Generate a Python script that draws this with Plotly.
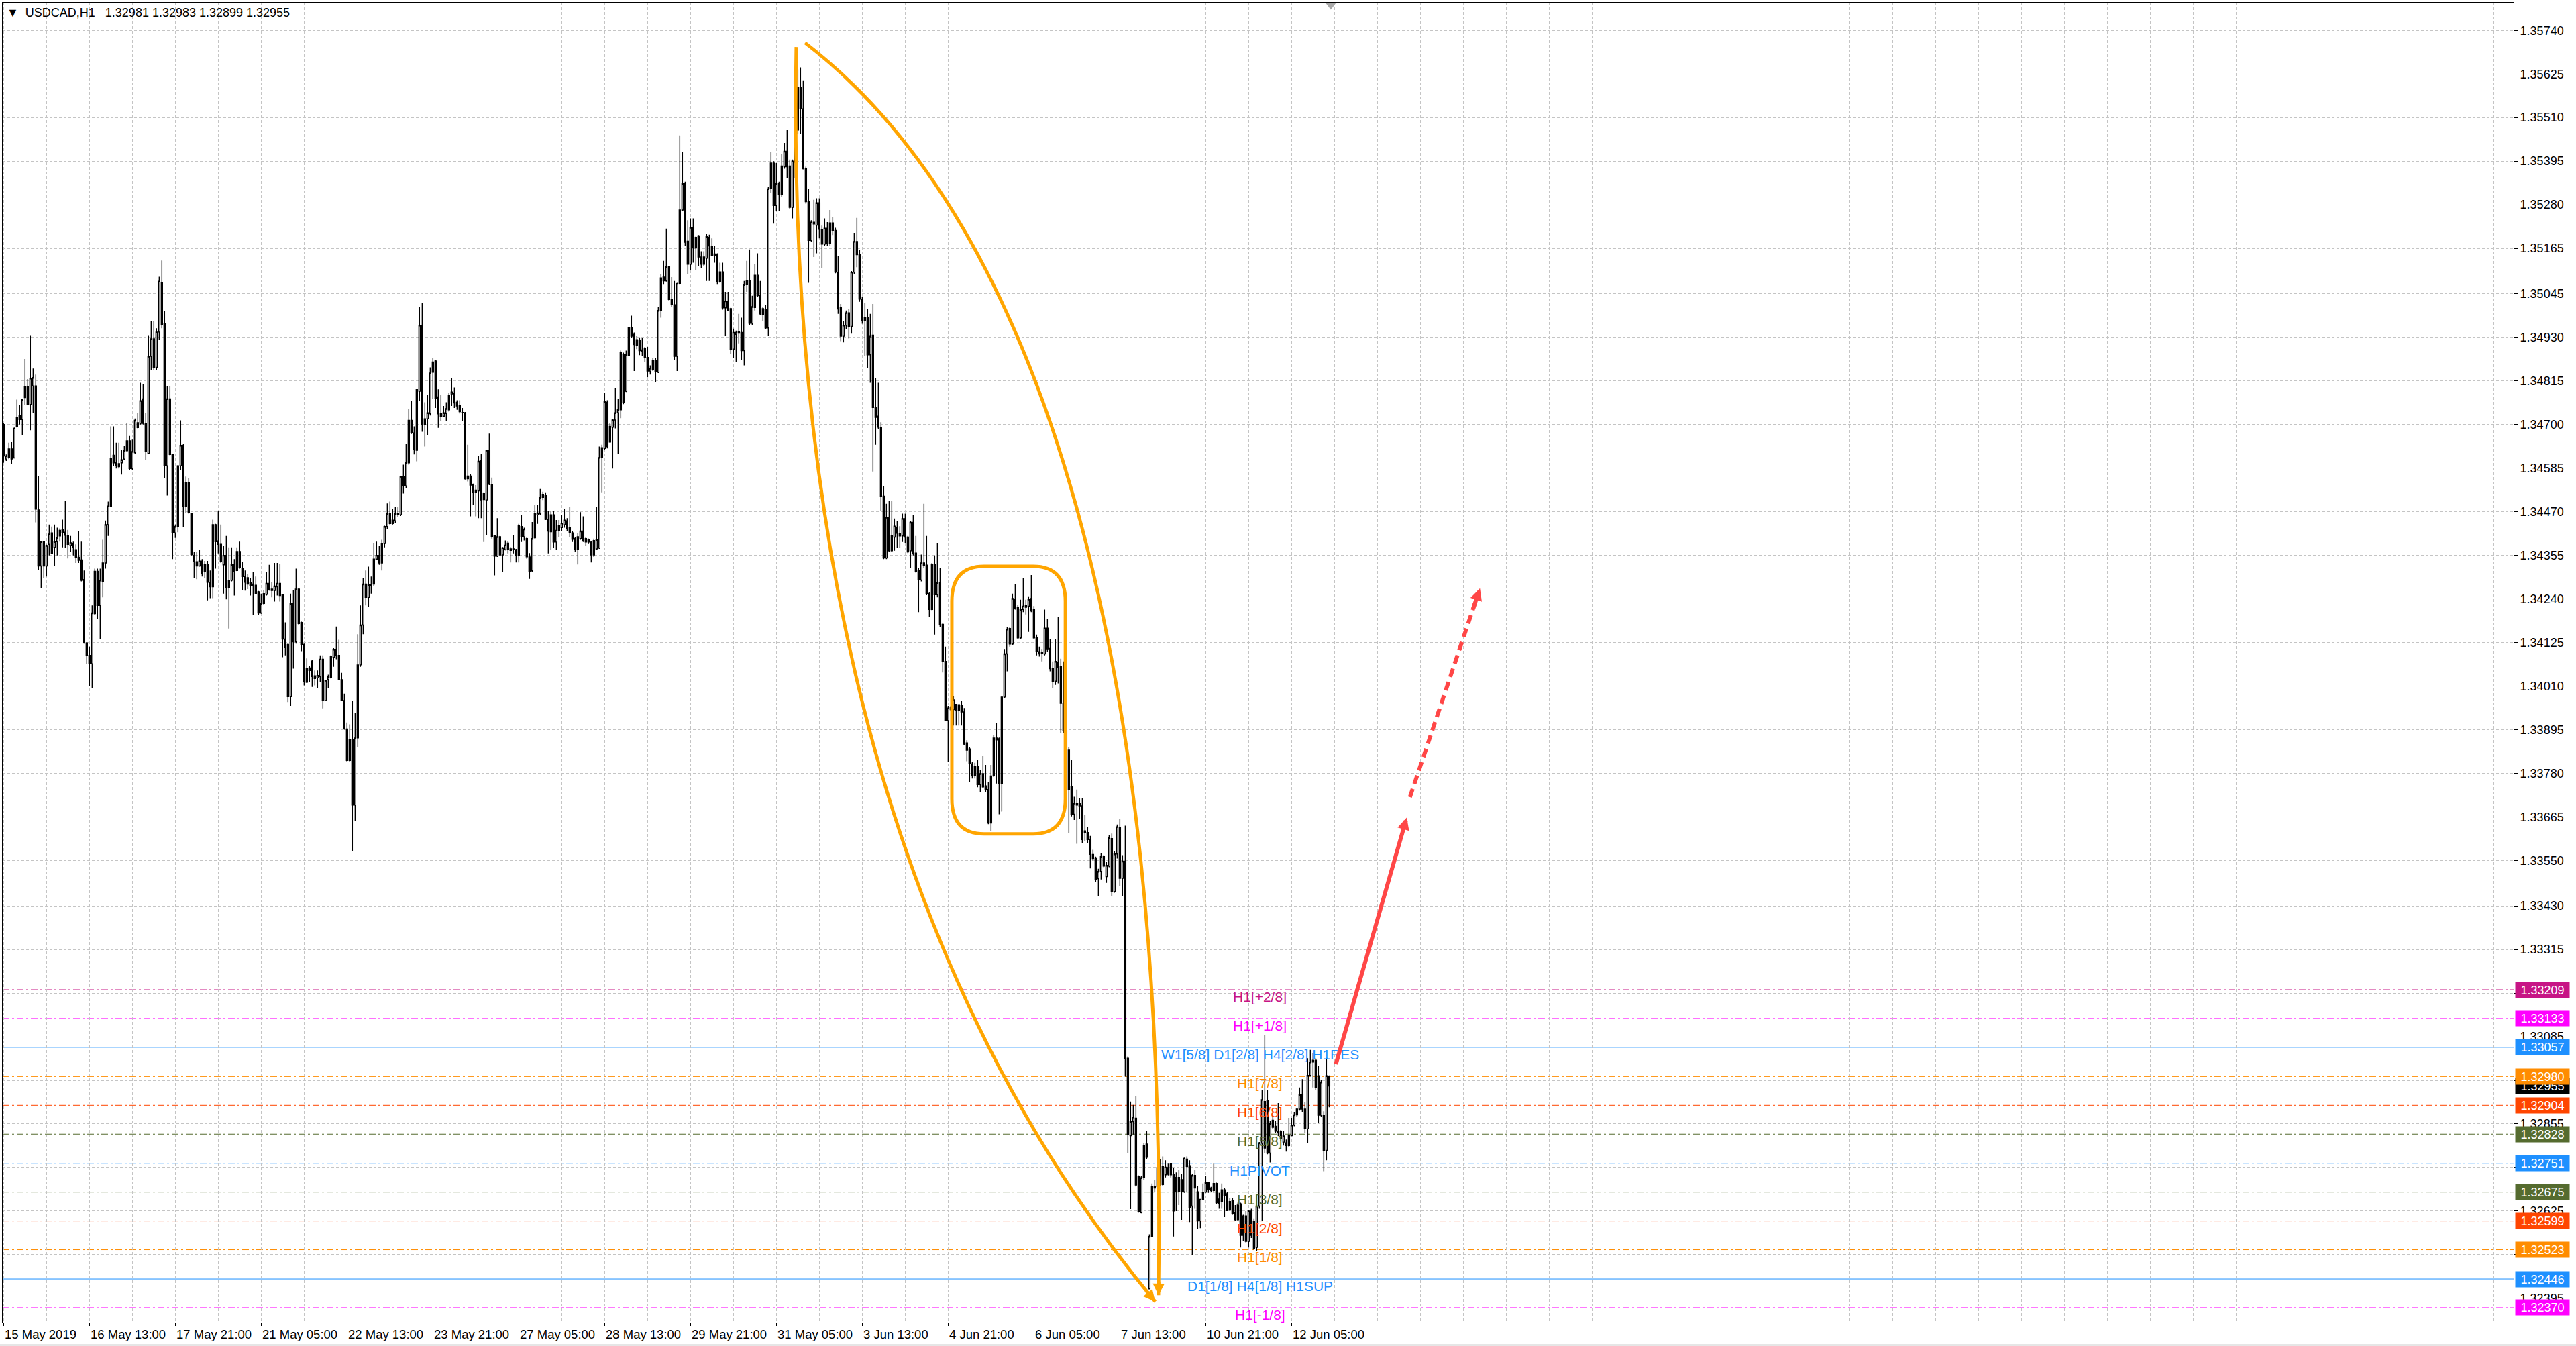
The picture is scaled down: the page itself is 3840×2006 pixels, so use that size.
import plotly.graph_objects as go

# USDCAD H1 bars, 15 May 2019 05:00 .. 12 Jun 2019 20:00, prices in points (1e-5)
OPEN = [
    134700, 134609, 134614, 134636, 134612, 134694, 134723, 134713, 134771, 134800,
    134753, 134802, 134802, 134475, 134327, 134391, 134327, 134384, 134414, 134376,
    134391, 134406, 134424, 134416, 134406, 134381, 134386, 134370, 134350, 134343,
    134291, 134124, 134091, 134069, 134201, 134313, 134223, 134286, 134335, 134436,
    134485, 134619, 134599, 134597, 134599, 134609, 134631, 134657, 134584, 134626,
    134692, 134703, 134768, 134703, 134624, 134880, 134926, 134851, 134944, 135074,
    134966, 134591, 134768, 134621, 134414, 134431, 134591, 134645, 134485, 134548,
    134465, 134355, 134338, 134327, 134340, 134313, 134330, 134284, 134272, 134436,
    134393, 134384, 134330, 134355, 134269, 134289, 134330, 134315, 134365, 134320,
    134299, 134296, 134284, 134279, 134276, 134259, 134203, 134228, 134252, 134281,
    134266, 134262, 134272, 134281, 134251, 134134, 134120, 133982, 134228, 134127,
    134266, 134178, 134120, 134020, 134058, 134076, 134037, 134032, 134035, 134081,
    133972, 134028, 134033, 134086, 134107, 134091, 134027, 133972, 133897, 133814,
    133870, 133696, 133873, 134066, 134171, 134279, 134244, 134274, 134279, 134345,
    134355, 134335, 134386, 134431, 134465, 134448, 134446, 134462, 134462, 134563,
    134538, 134599, 134711, 134678, 134632, 134788, 134962, 134700, 134715, 134729,
    134838, 134868, 134773, 134729, 134722, 134729, 134739, 134781, 134783, 134759,
    134751, 134732, 134731, 134564, 134564, 134542, 134521, 134525, 134605, 134518,
    134501, 134632, 134542, 134406, 134353, 134404, 134356, 134370, 134370, 134372,
    134372, 134370, 134354, 134431, 134404, 134399, 134351, 134314, 134401, 134462,
    134465, 134508, 134514, 134450, 134417, 134462, 134390, 134421, 134428, 134436,
    134446, 134428, 134414, 134399, 134370, 134399, 134419, 134399, 134397, 134390,
    134356, 134372, 134374, 134613, 134637, 134759, 134654, 134693, 134712, 134731,
    134739, 134885, 134788, 134883, 134955, 134938, 134924, 134922, 134897, 134902,
    134877, 134841, 134845, 134870, 134838, 135001, 135089, 135079, 135116, 135030,
    135016, 134880, 135072, 135266, 135336, 135184, 135123, 135220, 135166, 135198,
    135142, 135123, 135139, 135194, 135171, 135150, 135149, 135076, 135103, 135008,
    135026, 135006, 134899, 134938, 134941, 134943, 134895, 135069, 135079, 134967,
    135009, 135094, 135040, 134990, 135004, 134955, 135322, 135390, 135278, 135336,
    135307, 135380, 135421, 135382, 135273, 135392, 135477, 135589, 135533, 135375,
    135288, 135186, 135229, 135226, 135285, 135215, 135176, 135218, 135178, 135232,
    135212, 135102, 135008, 134933, 134962, 134995, 134959, 135102, 135183, 135148,
    135031, 134975, 134982, 134884, 134936, 134745, 134722, 134693, 134511, 134348,
    134455, 134367, 134403, 134429, 134413, 134406, 134452, 134403, 134367, 134442,
    134361, 134316, 134290, 134335, 134329, 134254, 134212, 134331, 134251, 134283,
    134173, 134075, 133919, 133948, 133948, 133962, 133946, 133959, 133942, 133860,
    133844, 133805, 133773, 133798, 133750, 133779, 133747, 133737, 133649, 133773,
    133868, 133871, 133753, 133981, 134095, 134162, 134121, 134238, 134218, 134137,
    134212, 134218, 134221, 134241, 134212, 134137, 134101, 134096, 134095, 134163,
    134111, 134056, 134023, 134072, 134062, 133965, 133893, 133841, 133744, 133672,
    133696, 133700, 133694, 133624, 133624, 133605, 133566, 133557, 133502, 133521,
    133560, 133507, 133535, 133608, 133468, 133567, 133637, 133503, 133548, 133028,
    132824, 132861, 132870, 132717, 132621, 132713, 132802, 132420, 132558, 132686,
    132690, 132741, 132695, 132721, 132740, 132721, 132722, 132714, 132676, 132708,
    132676, 132762, 132745, 132638, 132719, 132676, 132599, 132656, 132675, 132700,
    132686, 132679, 132698, 132657, 132650, 132681, 132671, 132628, 132652, 132622,
    132602, 132644, 132612, 132612, 132545, 132625, 132599, 132529, 132638, 132804,
    132914, 132916, 132778, 132865, 132849, 132833, 132836, 132807, 132805, 132798,
    132824, 132852, 132879, 132894, 132932, 132894, 132842, 132983, 133018, 133023,
    132982, 132878, 132878, 132785, 132981,
]
HIGH = [
    134705, 134621, 134652, 134655, 134692, 134766, 134751, 134768, 134873, 134820,
    134934, 134848, 134832, 134565, 134393, 134393, 134383, 134436, 134431, 134436,
    134428, 134426, 134449, 134499, 134422, 134406, 134391, 134384, 134418, 134391,
    134315, 134126, 134114, 134223, 134320, 134320, 134320, 134396, 134447, 134497,
    134695, 134695, 134652, 134652, 134634, 134643, 134705, 134670, 134660, 134716,
    134731, 134810, 134807, 134731, 134934, 134974, 134972, 134954, 135090, 135133,
    135000, 134802, 134802, 134623, 134436, 134593, 134711, 134650, 134563, 134558,
    134467, 134365, 134365, 134370, 134345, 134340, 134340, 134315, 134449, 134438,
    134472, 134436, 134381, 134406, 134376, 134376, 134345, 134376, 134391, 134337,
    134315, 134305, 134294, 134310, 134299, 134261, 134254, 134264, 134310, 134330,
    134284, 134335, 134335, 134332, 134253, 134178, 134122, 134254, 134264, 134320,
    134268, 134180, 134122, 134083, 134063, 134078, 134051, 134051, 134091, 134091,
    134027, 134040, 134091, 134112, 134167, 134132, 134045, 133990, 133914, 133909,
    133970, 133939, 134147, 134223, 134294, 134315, 134325, 134299, 134386, 134391,
    134381, 134396, 134433, 134492, 134497, 134477, 134482, 134482, 134565, 134594,
    134650, 134741, 134763, 134695, 134795, 135011, 135021, 134759, 134778, 134851,
    134875, 134870, 134793, 134778, 134749, 134759, 134783, 134822, 134798, 134764,
    134764, 134744, 134733, 134647, 134569, 134544, 134540, 134618, 134623, 134521,
    134634, 134676, 134560, 134408, 134453, 134406, 134377, 134394, 134392, 134377,
    134409, 134372, 134438, 134462, 134428, 134404, 134361, 134443, 134487, 134487,
    134530, 134523, 134521, 134472, 134472, 134472, 134448, 134448, 134462, 134477,
    134453, 134482, 134419, 134404, 134414, 134469, 134458, 134404, 134399, 134392,
    134399, 134482, 134642, 134647, 134783, 134764, 134705, 134715, 134797, 134768,
    134895, 134890, 134895, 134958, 134987, 134943, 134933, 134930, 134929, 134905,
    134905, 134856, 134875, 134875, 135011, 135098, 135132, 135217, 135118, 135089,
    135079, 135074, 135463, 135419, 135341, 135239, 135244, 135244, 135196, 135200,
    135157, 135157, 135204, 135201, 135191, 135171, 135152, 135127, 135127, 135050,
    135050, 135008, 134953, 134948, 134992, 134982, 135079, 135132, 135162, 135040,
    135123, 135152, 135079, 135011, 135016, 135326, 135419, 135395, 135390, 135341,
    135414, 135443, 135477, 135399, 135399, 135506, 135637, 135642, 135608, 135380,
    135322, 135239, 135293, 135297, 135297, 135225, 135244, 135234, 135266, 135248,
    135219, 135144, 135018, 134972, 135001, 135005, 135105, 135206, 135245, 135161,
    135037, 135021, 135005, 134992, 135018, 134823, 134810, 134706, 134537, 134491,
    134498, 134498, 134452, 134446, 134432, 134465, 134465, 134406, 134446, 134462,
    134406, 134322, 134357, 134491, 134406, 134257, 134335, 134355, 134387, 134322,
    134175, 134114, 133958, 133958, 133984, 133962, 133962, 133972, 133952, 133867,
    133848, 133809, 133808, 133815, 133789, 133825, 133802, 133757, 133802, 133880,
    133912, 133874, 133984, 134108, 134166, 134166, 134254, 134280, 134225, 134238,
    134296, 134238, 134247, 134303, 134221, 134146, 134114, 134108, 134212, 134186,
    134134, 134075, 134134, 134192, 134082, 134075, 133900, 133848, 133815, 133718,
    133737, 133715, 133715, 133670, 133639, 133615, 133578, 133560, 133528, 133569,
    133564, 133546, 133617, 133621, 133575, 133645, 133660, 133564, 133642, 133033,
    132914, 132905, 132928, 132719, 132717, 132804, 132836, 132564, 132698, 132708,
    132762, 132762, 132769, 132759, 132750, 132752, 132740, 132727, 132734, 132724,
    132766, 132769, 132759, 132722, 132734, 132692, 132657, 132698, 132718, 132702,
    132689, 132750, 132700, 132673, 132698, 132686, 132676, 132660, 132660, 132641,
    132647, 132647, 132615, 132625, 132628, 132631, 132606, 132670, 132807, 132945,
    133089, 132945, 132862, 132878, 132862, 132910, 132839, 132836, 132814, 132871,
    132871, 132887, 132897, 132951, 132973, 132913, 133028, 133050, 133041, 133028,
    133009, 132970, 132888, 133031, 132983,
]
LOW = [
    134599, 134604, 134609, 134596, 134611, 134692, 134700, 134672, 134751, 134753,
    134685, 134731, 134442, 134317, 134269, 134294, 134299, 134355, 134358, 134327,
    134355, 134391, 134376, 134374, 134347, 134365, 134355, 134335, 134335, 134286,
    134122, 134069, 134010, 134005, 134198, 134188, 134134, 134244, 134320, 134406,
    134483, 134591, 134584, 134584, 134568, 134607, 134629, 134581, 134581, 134623,
    134690, 134700, 134700, 134606, 134622, 134843, 134843, 134843, 134924, 134954,
    134558, 134513, 134619, 134345, 134401, 134416, 134579, 134429, 134467, 134465,
    134355, 134296, 134292, 134325, 134299, 134294, 134236, 134242, 134242, 134320,
    134360, 134335, 134254, 134239, 134162, 134286, 134249, 134313, 134320, 134264,
    134262, 134266, 134249, 134198, 134252, 134198, 134201, 134225, 134249, 134262,
    134244, 134233, 134249, 134233, 134086, 134091, 133968, 133958, 134056, 134122,
    134171, 134102, 134012, 134018, 134020, 134008, 134012, 134005, 134020, 133951,
    133970, 134005, 134030, 134061, 134081, 134025, 133970, 133895, 133811, 133811,
    133574, 133655, 133850, 134061, 134147, 134223, 134218, 134254, 134274, 134343,
    134330, 134315, 134376, 134424, 134436, 134436, 134441, 134457, 134459, 134518,
    134533, 134594, 134675, 134621, 134603, 134763, 134681, 134642, 134671, 134724,
    134768, 134744, 134691, 134710, 134719, 134710, 134734, 134749, 134744, 134739,
    134729, 134710, 134555, 134550, 134458, 134487, 134458, 134453, 134453, 134390,
    134409, 134540, 134399, 134302, 134351, 134354, 134312, 134368, 134360, 134336,
    134360, 134336, 134336, 134390, 134394, 134346, 134293, 134312, 134399, 134438,
    134462, 134501, 134448, 134360, 134370, 134375, 134370, 134404, 134419, 134428,
    134419, 134404, 134390, 134365, 134331, 134396, 134390, 134380, 134385, 134336,
    134351, 134370, 134372, 134521, 134634, 134637, 134652, 134584, 134690, 134623,
    134717, 134754, 134786, 134880, 134928, 134841, 134899, 134883, 134880, 134865,
    134825, 134832, 134841, 134812, 134836, 134982, 135069, 135077, 135026, 135011,
    134870, 134841, 135069, 135263, 135171, 135098, 135108, 135127, 135108, 135118,
    135113, 135118, 135079, 135079, 135145, 135127, 135069, 135074, 135003, 134933,
    135000, 134887, 134875, 134865, 134914, 134870, 134856, 135050, 134962, 134962,
    135001, 135036, 134990, 134972, 134951, 134933, 135312, 135230, 135263, 135263,
    135300, 135375, 135351, 135268, 135244, 135351, 135467, 135467, 135373, 135283,
    135074, 135181, 135142, 135152, 135191, 135113, 135171, 135171, 135171, 135200,
    135099, 134992, 134920, 134917, 134952, 134927, 134940, 135096, 135115, 135024,
    134966, 134881, 134849, 134810, 134576, 134647, 134689, 134472, 134345, 134345,
    134364, 134364, 134367, 134374, 134374, 134390, 134387, 134361, 134322, 134355,
    134309, 134205, 134286, 134322, 134250, 134192, 134210, 134146, 134244, 134166,
    134046, 133917, 133809, 133945, 133906, 133906, 133906, 133906, 133854, 133812,
    133757, 133766, 133766, 133743, 133731, 133740, 133731, 133646, 133627, 133770,
    133753, 133672, 133679, 133978, 134049, 134114, 134119, 134212, 134134, 134134,
    134205, 134199, 134153, 134205, 134134, 134091, 134088, 134075, 134091, 134101,
    134049, 134004, 134013, 134017, 133886, 133886, 133835, 133623, 133666, 133657,
    133594, 133660, 133596, 133601, 133596, 133529, 133550, 133493, 133457, 133500,
    133532, 133491, 133532, 133456, 133465, 133555, 133482, 133456, 132980, 132777,
    132630, 132827, 132690, 132621, 132619, 132708, 132763, 132419, 132556, 132676,
    132631, 132692, 132692, 132714, 132719, 132714, 132558, 132625, 132641, 132602,
    132673, 132676, 132596, 132510, 132631, 132577, 132580, 132654, 132673, 132673,
    132676, 132673, 132644, 132631, 132631, 132609, 132625, 132625, 132615, 132599,
    132599, 132529, 132545, 132542, 132529, 132554, 132522, 132519, 132631, 132599,
    132778, 132775, 132753, 132842, 132830, 132823, 132810, 132798, 132782, 132794,
    132823, 132849, 132874, 132890, 132887, 132830, 132804, 132980, 132951, 132945,
    132858, 132874, 132730, 132759, 132899,
]
CLOSE = [
    134617, 134617, 134636, 134609, 134690, 134719, 134713, 134766, 134800, 134754,
    134822, 134824, 134477, 134327, 134391, 134327, 134381, 134411, 134360, 134391,
    134401, 134421, 134414, 134408, 134384, 134388, 134376, 134350, 134342, 134289,
    134124, 134091, 134069, 134203, 134313, 134223, 134289, 134335, 134436, 134485,
    134611, 134599, 134591, 134589, 134607, 134631, 134657, 134584, 134629, 134711,
    134705, 134763, 134703, 134629, 134880, 134926, 134851, 134944, 135078, 134964,
    134591, 134768, 134621, 134414, 134431, 134591, 134645, 134485, 134548, 134467,
    134357, 134338, 134327, 134340, 134308, 134330, 134284, 134272, 134436, 134391,
    134384, 134338, 134355, 134269, 134289, 134330, 134313, 134365, 134322, 134299,
    134284, 134279, 134276, 134276, 134254, 134203, 134228, 134254, 134281, 134264,
    134262, 134274, 134281, 134249, 134134, 134112, 133982, 134228, 134127, 134266,
    134175, 134120, 134022, 134056, 134051, 134035, 134030, 134038, 134081, 133972,
    134025, 134035, 134088, 134107, 134091, 134027, 133972, 133897, 133814, 133870,
    133696, 133873, 134066, 134171, 134279, 134244, 134277, 134277, 134345, 134355,
    134335, 134386, 134431, 134465, 134439, 134439, 134465, 134465, 134563, 134538,
    134599, 134711, 134678, 134634, 134793, 134962, 134700, 134715, 134731, 134836,
    134865, 134768, 134728, 134722, 134731, 134742, 134778, 134786, 134757, 134749,
    134734, 134731, 134557, 134557, 134540, 134521, 134527, 134603, 134501, 134502,
    134632, 134543, 134404, 134353, 134404, 134356, 134375, 134382, 134387, 134368,
    134370, 134354, 134433, 134404, 134424, 134351, 134312, 134399, 134465, 134467,
    134508, 134516, 134450, 134419, 134462, 134390, 134421, 134433, 134440, 134448,
    134426, 134414, 134397, 134370, 134404, 134419, 134394, 134390, 134390, 134356,
    134394, 134396, 134613, 134639, 134761, 134642, 134695, 134712, 134731, 134739,
    134890, 134759, 134885, 134955, 134933, 134911, 134909, 134895, 134893, 134877,
    134841, 134848, 134870, 134839, 135001, 135087, 135079, 135116, 135030, 135016,
    134880, 135072, 135266, 135336, 135181, 135123, 135220, 135166, 135194, 135142,
    135123, 135142, 135196, 135171, 135147, 135147, 135076, 135103, 135008, 135026,
    135001, 134899, 134943, 134943, 134945, 134895, 135069, 135079, 134967, 135011,
    135094, 135040, 134992, 135006, 134955, 135322, 135390, 135278, 135336, 135307,
    135382, 135421, 135380, 135273, 135395, 135477, 135589, 135533, 135375, 135288,
    135186, 135234, 135234, 135285, 135215, 135176, 135218, 135178, 135232, 135212,
    135102, 135005, 134933, 134962, 134995, 134959, 135102, 135183, 135148, 135031,
    134975, 134982, 134884, 134933, 134745, 134719, 134693, 134511, 134348, 134455,
    134367, 134406, 134432, 134413, 134406, 134452, 134403, 134364, 134442, 134361,
    134312, 134290, 134335, 134329, 134254, 134212, 134331, 134251, 134283, 134173,
    134075, 133919, 133952, 133955, 133974, 133946, 133961, 133942, 133857, 133841,
    133805, 133773, 133799, 133750, 133779, 133744, 133737, 133649, 133773, 133873,
    133873, 133753, 133981, 134095, 134160, 134121, 134241, 134215, 134137, 134212,
    134221, 134223, 134239, 134208, 134137, 134101, 134095, 134098, 134163, 134108,
    134056, 134023, 134075, 134059, 133965, 133893, 133841, 133737, 133672, 133701,
    133701, 133694, 133605, 133628, 133605, 133566, 133555, 133500, 133521, 133560,
    133535, 133537, 133610, 133468, 133567, 133639, 133503, 133548, 133026, 132827,
    132861, 132873, 132694, 132623, 132713, 132799, 132767, 132558, 132689, 132690,
    132740, 132695, 132743, 132741, 132722, 132750, 132625, 132676, 132714, 132676,
    132764, 132743, 132634, 132719, 132686, 132599, 132656, 132675, 132700, 132682,
    132679, 132698, 132647, 132645, 132681, 132666, 132626, 132650, 132618, 132602,
    132641, 132561, 132561, 132545, 132625, 132561, 132526, 132638, 132805, 132919,
    132791, 132778, 132856, 132846, 132836, 132836, 132817, 132823, 132798, 132824,
    132852, 132879, 132894, 132932, 132894, 132842, 132983, 133018, 133023, 132951,
    132878, 132965, 132785, 132982, 132955,
]

# time scale labels (bar index where each label sits)
TIME_BARS = [0, 32, 64, 96, 128, 160, 192, 224, 256, 288, 320, 352, 384, 416, 448, 480]
TIME_TEXT = ["15 May 2019", "16 May 13:00", "17 May 21:00", "21 May 05:00", "22 May 13:00",
             "23 May 21:00", "27 May 05:00", "28 May 13:00", "29 May 21:00", "31 May 05:00",
             "3 Jun 13:00", "4 Jun 21:00", "6 Jun 05:00", "7 Jun 13:00", "10 Jun 21:00",
             "12 Jun 05:00"]

# price scale (empty text = label hidden under a level tag)
PRICE_TICKS = [1.35740, 1.35625, 1.35510, 1.35395, 1.35280, 1.35165, 1.35045, 1.34930,
               1.34815, 1.34700, 1.34585, 1.34470, 1.34355, 1.34240, 1.34125, 1.34010,
               1.33895, 1.33780, 1.33665, 1.33550, 1.33430, 1.33315, 1.33200, 1.33085,
               1.32970, 1.32855, 1.32740, 1.32625, 1.32510, 1.32395]
PRICE_TEXT = ["1.35740", "1.35625", "1.35510", "1.35395", "1.35280", "1.35165", "1.35045",
              "1.34930", "1.34815", "1.34700", "1.34585", "1.34470", "1.34355", "1.34240",
              "1.34125", "1.34010", "1.33895", "1.33780", "1.33665", "1.33550", "1.33430",
              "1.33315", "", "1.33085", "", "1.32855", "", "1.32625", "", "1.32395"]

# Murrey math levels
LEVEL_PRICES = [1.33209, 1.33133, 1.33057, 1.32980, 1.32904, 1.32828, 1.32751, 1.32675,
                1.32599, 1.32523, 1.32446, 1.32370]
LEVEL_NAMES = ["H1[+2/8]", "H1[+1/8]", "W1[5/8] D1[2/8] H4[2/8] H1RES", "H1[7/8]", "H1[6/8]",
               "H1[5/8]", "H1PIVOT", "H1[3/8]", "H1[2/8]", "H1[1/8]",
               "D1[1/8] H4[1/8] H1SUP", "H1[-1/8]"]
LEVEL_COLORS = ["#C71585", "#FF00FF", "#1E90FF", "#FF8C00", "#FF4500", "#556B2F",
                "#1E90FF", "#556B2F", "#FF4500", "#FF8C00", "#1E90FF", "#FF00FF"]
LEVEL_LABEL_BAR = 468.2
BID = 1.32955
TITLE = "▼\u00a0\u00a0USDCAD,H1\u00a0\u00a0\u00a01.32981 1.32983 1.32899 1.32955"

# hand drawn objects (bar index, price)
ARC_LEFT = [(295.4, 1.35696), (289.9, 1.33572), (429.2, 1.32386)]
ARC_RIGHT = [(298.7, 1.35707), (388.7, 1.35218), (433.7, 1.34050), (430.4, 1.32403)]
BOX = dict(x0=353.4, x1=395.7, y0=1.33620, y1=1.34326)
ARROW_SOLID = [(496.4, 1.33010), (522.9, 1.33663)]
ARROW_DASHED = [(524.1, 1.33717), (550.2, 1.34268)]

W, H = 3840, 2006
ML, MR, MT, MB = 4, 93, 4, 35
XR = [-0.33, 935.4]
YR = [1.32331, 1.35813]
PX_X = (W - ML - MR) / (XR[1] - XR[0])
PX_Y = (H - MT - MB) / (YR[1] - YR[0])

FONT = "Liberation Sans, Arial, sans-serif"
GRID = "#C4C4C4"
ORANGE = "#FFA500"
RED = "#FF4646"
DASHDOT = "10px,4px,3px,4px"

bars = list(range(len(OPEN)))
fig = go.Figure(go.Candlestick(
    x=bars,
    open=[v / 1e5 for v in OPEN], high=[v / 1e5 for v in HIGH],
    low=[v / 1e5 for v in LOW], close=[v / 1e5 for v in CLOSE],
    increasing=dict(line=dict(color="black", width=1.4), fillcolor="white"),
    decreasing=dict(line=dict(color="black", width=1.4), fillcolor="black"),
    whiskerwidth=0, showlegend=False, hoverinfo="skip"))

shapes = []
annotations = []

# level lines and their captions
for p, name, c in zip(LEVEL_PRICES, LEVEL_NAMES, LEVEL_COLORS):
    solid = name.endswith("RES") or name.endswith("SUP")
    shapes.append(dict(type="line", xref="paper", x0=0, x1=1, yref="y", y0=p, y1=p,
                       line=dict(color=c, width=1, dash="solid" if solid else DASHDOT),
                       layer="below"))
    annotations.append(dict(x=LEVEL_LABEL_BAR, y=p, xref="x", yref="y", text=name,
                            showarrow=False, xanchor="center", yanchor="top", yshift=3,
                            font=dict(family=FONT, size=21, color=c)))
shapes.append(dict(type="line", xref="paper", x0=0, x1=1, yref="y", y0=BID, y1=BID,
                   line=dict(color="#C0C0C0", width=1), layer="below"))

# price tags on the scale
annotations.append(dict(x=1, y=BID, xref="paper", yref="y", text=f"{BID:.5f}",
                        showarrow=False, xanchor="left", yanchor="middle", xshift=2,
                        width=80, height=23, borderpad=0, bgcolor="black",
                        font=dict(family=FONT, size=18, color="white")))
for p, c in zip(LEVEL_PRICES, LEVEL_COLORS):
    annotations.append(dict(x=1, y=p, xref="paper", yref="y", text=f"{p:.5f}",
                            showarrow=False, xanchor="left", yanchor="middle", xshift=2,
                            width=80, height=23, borderpad=0, bgcolor=c,
                            font=dict(family=FONT, size=18, color="white")))

# time labels
for b, t in zip(TIME_BARS, TIME_TEXT):
    annotations.append(dict(x=b, y=0, xref="x", yref="paper", text=t, showarrow=False,
                            xanchor="left", yanchor="top", yshift=-5, xshift=0,
                            font=dict(family=FONT, size=18.5, color="black")))

annotations.append(dict(x=0, y=1, xref="paper", yref="paper", text=TITLE, showarrow=False,
                        xanchor="left", yanchor="top", xshift=4, yshift=-3,
                        font=dict(family=FONT, size=18, color="black")))

# orange lens and box
(a0, a1, a2) = ARC_LEFT
shapes.append(dict(type="path", xref="x", yref="y", layer="above",
                   path=f"M {a0[0]},{a0[1]} Q {a1[0]},{a1[1]} {a2[0]},{a2[1]}",
                   line=dict(color=ORANGE, width=5)))
(b0, b1, b2, b3) = ARC_RIGHT
shapes.append(dict(type="path", xref="x", yref="y", layer="above",
                   path=f"M {b0[0]},{b0[1]} C {b1[0]},{b1[1]} {b2[0]},{b2[1]} {b3[0]},{b3[1]}",
                   line=dict(color=ORANGE, width=5)))
for tip, ctrl in ((a2, a1), (b3, b2)):
    dx = (tip[0] - ctrl[0]) * PX_X
    dy = -(tip[1] - ctrl[1]) * PX_Y
    n = (dx * dx + dy * dy) ** 0.5
    annotations.append(dict(x=tip[0], y=tip[1], xref="x", yref="y", text="",
                            showarrow=True, arrowhead=2, arrowsize=0.7, arrowwidth=5,
                            arrowcolor=ORANGE, ax=-dx / n * 22, ay=-dy / n * 22))

rx, ry = 12, 0.00092
x0, x1, y0, y1 = BOX["x0"], BOX["x1"], BOX["y0"], BOX["y1"]
shapes.append(dict(type="path", xref="x", yref="y", layer="above",
                   line=dict(color=ORANGE, width=5),
                   path=(f"M {x0 + rx},{y1} L {x1 - rx},{y1} Q {x1},{y1} {x1},{y1 - ry} "
                         f"L {x1},{y0 + ry} Q {x1},{y0} {x1 - rx},{y0} L {x0 + rx},{y0} "
                         f"Q {x0},{y0} {x0},{y0 + ry} L {x0},{y1 - ry} Q {x0},{y1} {x0 + rx},{y1} Z")))

# red projection arrows
(s0, s1) = ARROW_SOLID
annotations.append(dict(x=s1[0], y=s1[1], ax=s0[0], ay=s0[1], xref="x", yref="y",
                        axref="x", ayref="y", text="", showarrow=True, arrowhead=2,
                        arrowsize=0.6, arrowwidth=6, arrowcolor=RED))
(d0, d1) = ARROW_DASHED
shapes.append(dict(type="line", xref="x", yref="y", layer="above",
                   x0=d0[0], y0=d0[1], x1=d0[0] + (d1[0] - d0[0]) * 0.93,
                   y1=d0[1] + (d1[1] - d0[1]) * 0.93,
                   line=dict(color=RED, width=6, dash="13px,8px")))
annotations.append(dict(x=d1[0], y=d1[1], ax=d0[0] + (d1[0] - d0[0]) * 0.9,
                        ay=d0[1] + (d1[1] - d0[1]) * 0.9, xref="x", yref="y",
                        axref="x", ayref="y", text="", showarrow=True, arrowhead=2,
                        arrowsize=0.6, arrowwidth=6, arrowcolor=RED))

# chart shift marker and bottom frame strip
shapes.append(dict(type="path", xref="paper", yref="paper", layer="above",
                   path="M 0.5268,1 L 0.5311,1 L 0.52895,0.9946 Z",
                   fillcolor="#A8A8A8", line=dict(width=0)))
shapes.append(dict(type="rect", xref="paper", yref="paper", x0=-0.01, x1=1.03,
                   y0=-0.0185, y1=-0.0163, fillcolor="#E6E6E6", line=dict(width=0),
                   layer="below"))

fig.update_layout(
    width=W, height=H, margin=dict(l=ML, r=MR, t=MT, b=MB),
    paper_bgcolor="white", plot_bgcolor="white",
    font=dict(family=FONT, size=18, color="black"),
    showlegend=False, hovermode=False,
    shapes=shapes, annotations=annotations,
    xaxis=dict(range=XR, rangeslider=dict(visible=False), showline=True, linecolor="black",
               linewidth=1, mirror=True, tickmode="array", tickvals=TIME_BARS,
               showticklabels=False, ticks="outside", ticklen=4, tickcolor="black",
               showgrid=False, zeroline=False,
               minor=dict(tickmode="linear", tick0=0, dtick=16, showgrid=True,
                          gridcolor=GRID, griddash="4px,3px", gridwidth=1)),
    yaxis=dict(range=YR, side="right", showline=True, linecolor="black", linewidth=1,
               mirror=True, tickmode="array", tickvals=PRICE_TICKS, ticktext=PRICE_TEXT,
               ticks="outside", ticklen=5, tickcolor="black",
               tickfont=dict(family=FONT, size=18, color="black"),
               showgrid=True, gridcolor=GRID, griddash="4px,3px", gridwidth=1,
               zeroline=False),
)

fig.write_html("out.html", config={"displayModeBar": False},
               post_script="document.body.style.margin='0';")
